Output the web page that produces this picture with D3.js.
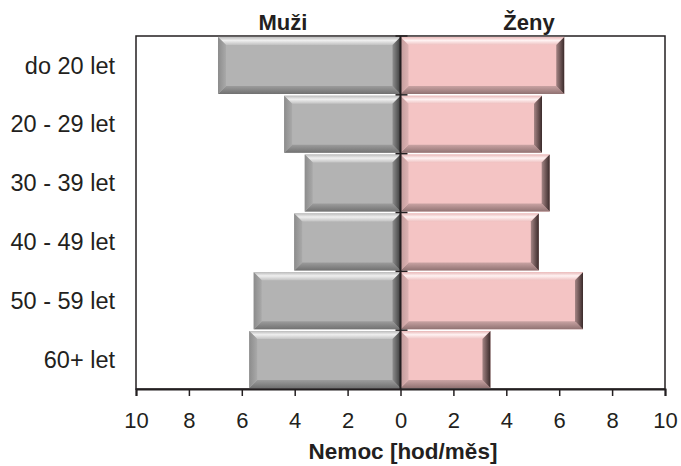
<!DOCTYPE html>
<html>
<head>
<meta charset="utf-8">
<script src="https://cdn.jsdelivr.net/npm/d3@7"></script>
<style>
  body { margin: 0; background: #fff; }
  svg text { font-family: "Liberation Sans", Arial, sans-serif; fill: #231f20; }
</style>
</head>
<body>
<div id="chart"></div>
<script>
const categories = ["do 20 let", "20 - 29 let", "30 - 39 let", "40 - 49 let", "50 - 59 let", "60+ let"];
const muzi = [6.9, 4.4, 3.62, 4.02, 5.55, 5.72];
const zeny = [6.19, 5.35, 5.64, 5.23, 6.9, 3.4];
const tickValues = [-10, -8, -6, -4, -2, 0, 2, 4, 6, 8, 10];

const width = 681, height = 466;
const plotLeft = 136, plotRight = 665, plotTop = 36, plotBottom = 389;

const svg = d3.select("#chart").append("svg")
    .attr("width", width)
    .attr("height", height);

const x = d3.scaleLinear().domain([-10, 10]).range([plotLeft, plotRight]);
const y = d3.scaleBand().domain(categories).range([plotTop, plotBottom]).paddingInner(0.03).paddingOuter(0.015);

// gradients for the bevel sides
const defs = svg.append("defs");
function grad(id, vertical, stops) {
    const g = defs.append("linearGradient").attr("id", id)
        .attr("x1", 0).attr("y1", 0)
        .attr("x2", vertical ? 0 : 1).attr("y2", vertical ? 1 : 0);
    stops.forEach(([o, c]) => g.append("stop").attr("offset", o).attr("stop-color", c));
}
const styles = {
    m: { base: "#b3b3b3",
         top: [[0, "#bcbcbc"], [0.45, "#efefef"], [1, "#c2c2c2"]],
         left: [[0, "#8c8c8c"], [1, "#a9a9a9"]],
         bottom: [[0, "#9c9c9c"], [1, "#717171"]],
         right: [[0, "#8e8e8e"], [1, "#3e3e3e"]] },
    z: { base: "#f4c4c4",
         top: [[0, "#e8b8b8"], [0.45, "#fff2f2"], [1, "#efc2c2"]],
         left: [[0, "#c39c9c"], [1, "#ddb3b3"]],
         bottom: [[0, "#c9a3a3"], [1, "#907272"]],
         right: [[0, "#a58585"], [1, "#3a2a2a"]] }
};
Object.entries(styles).forEach(([k, s]) => {
    grad(k + "-top", true, s.top);
    grad(k + "-left", false, s.left);
    grad(k + "-bottom", true, s.bottom);
    grad(k + "-right", false, s.right);
});

// plot frame
svg.append("rect")
    .attr("x", plotLeft).attr("y", plotTop)
    .attr("width", plotRight - plotLeft).attr("height", plotBottom - plotTop)
    .attr("fill", "none").attr("stroke", "#231f20").attr("stroke-width", 1.5);

// bevelled bar: base rect + four shaded sides
function bar(x0, x1, y0, y1, k) {
    const b = 8;
    const g = svg.append("g");
    g.append("rect").attr("x", x0).attr("y", y0)
        .attr("width", x1 - x0).attr("height", y1 - y0).attr("fill", styles[k].base);
    const poly = (pts, side) => g.append("polygon")
        .attr("points", pts.map(p => p.join(",")).join(" ")).attr("fill", `url(#${k}-${side})`);
    poly([[x0, y0], [x1, y0], [x1 - b, y0 + b], [x0 + b, y0 + b]], "top");
    poly([[x0, y1], [x1, y1], [x1 - b, y1 - b], [x0 + b, y1 - b]], "bottom");
    poly([[x0, y0], [x0 + b, y0 + b], [x0 + b, y1 - b], [x0, y1]], "left");
    poly([[x1, y0], [x1 - b, y0 + b], [x1 - b, y1 - b], [x1, y1]], "right");
}

categories.forEach((c, i) => {
    const y0 = y(c), y1 = y(c) + y.bandwidth();
    bar(x(-muzi[i]), x(0), y0, y1, "m");
    bar(x(0), x(zeny[i]), y0, y1, "z");
});

// center axis
svg.append("line")
    .attr("x1", x(0)).attr("x2", x(0)).attr("y1", plotTop).attr("y2", plotBottom)
    .attr("stroke", "#231f20").attr("stroke-width", 2);
categories.forEach(c => {
    const yy = y(c) - y.step() * y.paddingInner() / 2;
    svg.append("line")
        .attr("x1", x(0) - 5).attr("x2", x(0) + 7)
        .attr("y1", yy).attr("y2", yy)
        .attr("stroke", "#231f20").attr("stroke-width", 1.5);
});

// bottom axis
const xAxis = d3.axisBottom(x).tickValues(tickValues).tickSize(7).tickPadding(16)
    .tickFormat(d => Math.abs(d));
const ax = svg.append("g").attr("transform", `translate(0,${plotBottom})`).call(xAxis);
ax.select(".domain").attr("stroke", "#231f20").attr("stroke-width", 2);
ax.selectAll(".tick line").attr("stroke", "#231f20").attr("stroke-width", 1.5);
ax.selectAll(".tick text").style("font-size", "22px").attr("fill", "#231f20");

// category labels
svg.append("g").selectAll("text").data(categories).join("text")
    .attr("x", 115)
    .attr("y", d => y(d) + y.bandwidth() / 2)
    .attr("dy", "0.35em")
    .attr("text-anchor", "end")
    .style("font-size", "23.5px")
    .text(d => d);

// titles
svg.append("text").attr("x", 283).attr("y", 30).attr("text-anchor", "middle")
    .style("font-size", "22px").style("font-weight", "bold").text("Muži");
svg.append("text").attr("x", 529).attr("y", 30).attr("text-anchor", "middle")
    .style("font-size", "22px").style("font-weight", "bold").text("Ženy");
svg.append("text").attr("x", 403).attr("y", 459).attr("text-anchor", "middle")
    .style("font-size", "22.5px").style("font-weight", "bold").text("Nemoc [hod/měs]");
</script>
</body>
</html>
